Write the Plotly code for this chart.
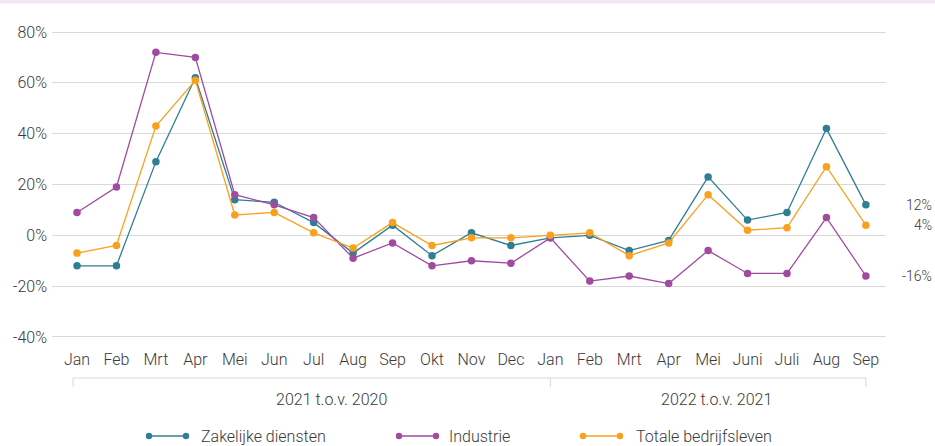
import plotly.graph_objects as go

months = ["Jan", "Feb", "Mrt", "Apr", "Mei", "Jun", "Jul", "Aug", "Sep", "Okt", "Nov", "Dec",
          "Jan", "Feb", "Mrt", "Apr", "Mei", "Juni", "Juli", "Aug", "Sep"]
groups = ["2021 t.o.v. 2020", "2022 t.o.v. 2021"]
zakelijke = [-12, -12, 29, 62, 14, 13, 5, -7, 4, -8, 1, -4, -1, 0, -6, -2, 23, 6, 9, 42, 12]
industrie = [9, 19, 72, 70, 16, 12, 7, -9, -3, -12, -10, -11, -1, -18, -16, -19, -6, -15, -15, 7, -16]
totale = [-7, -4, 43, 61, 8, 9, 1, -5, 5, -4, -1, -1, 0, 1, -8, -3, 16, 2, 3, 27, 4]
series_names = ["Zakelijke diensten", "Industrie", "Totale bedrijfsleven"]
y_ticks = [-40, -20, 0, 20, 40, 60, 80]

colors = ["#2f7f94", "#a04aa0", "#f9a11f"]
FONT = "Roboto, 'Noto Sans', sans-serif"
TXT = "#3a3a3a"

W, H = 935, 446
L, R, T, B = 52, 49, 31, 108
PW, PH = W - L - R, H - T - B


def xp(px):
    return (px - L) / PW


def yp(py):
    return (H - B - py) / PH


x_idx = list(range(len(months)))
fig = go.Figure()
for name, vals, col in zip(series_names, [zakelijke, industrie, totale], colors):
    fig.add_trace(go.Scatter(
        x=x_idx, y=vals, mode="lines+markers", name=name,
        line=dict(color=col, width=1.3),
        marker=dict(color=col, size=7.5),
        showlegend=False,
    ))

shapes = []
annotations = []

# top band
shapes.append(dict(type="rect", xref="paper", yref="paper", x0=xp(0), x1=xp(W), y0=yp(3.5), y1=yp(0),
                   fillcolor="#f1e6f1", line=dict(width=0), layer="below"))

# right-side value labels for last points
for vals in [zakelijke, totale, industrie]:
    annotations.append(dict(x=xp(934), xref="paper", y=vals[-1], yref="y", text=f"{vals[-1]}%",
                            showarrow=False, xanchor="right", yanchor="middle",
                            font=dict(family=FONT, size=14, color=TXT, weight=300)))

# category group bracket
bracket_y = yp(378)
bracket_bot = yp(387)
bx = [-0.1, 12, 20]
shapes.append(dict(type="line", xref="x", yref="paper", x0=bx[0], x1=bx[-1], y0=bracket_y, y1=bracket_y,
                   line=dict(color="#d9d9d9", width=1)))
for b in bx:
    shapes.append(dict(type="line", xref="x", yref="paper", x0=b, x1=b, y0=bracket_y, y1=bracket_bot,
                       line=dict(color="#d9d9d9", width=1)))
for gx, g in zip([6.46, 16.2], groups):
    annotations.append(dict(x=gx, xref="x", y=yp(399), yref="paper", text=g, showarrow=False,
                            xanchor="center", yanchor="middle",
                            font=dict(family=FONT, size=16, color=TXT, weight=300)))

# custom legend
leg_y = yp(436)
for name, col, lx, tx in zip(series_names, colors, [149, 399, 583], [199, 447, 634]):
    shapes.append(dict(type="line", xref="paper", yref="paper", x0=xp(lx), x1=xp(lx + 37), y0=leg_y, y1=leg_y,
                       line=dict(color=col, width=1.3)))
    for cx in [lx, lx + 37]:
        shapes.append(dict(type="circle", xref="paper", yref="paper",
                           x0=xp(cx - 3.2), x1=xp(cx + 3.2), y0=yp(436 + 3.2), y1=yp(436 - 3.2),
                           fillcolor=col, line=dict(width=0)))
    annotations.append(dict(x=xp(tx), xref="paper", y=leg_y, yref="paper", text=name, showarrow=False,
                            xanchor="left", yanchor="middle",
                            font=dict(family=FONT, size=16, color=TXT, weight=300)))

fig.update_layout(
    width=W, height=H,
    margin=dict(l=L, r=R, t=T, b=B, autoexpand=False),
    paper_bgcolor="white", plot_bgcolor="white",
    font=dict(family=FONT, size=16, color=TXT, weight=300),
    xaxis=dict(range=[-0.634, 20.51], tickvals=x_idx, ticktext=months, showgrid=False,
               zeroline=False, showline=False, ticks="", ticklabelstandoff=10,
               tickfont=dict(family=FONT, size=16, color=TXT, weight=300), fixedrange=True),
    yaxis=dict(range=[-40.4, 80.4], tickvals=y_ticks, ticktext=[f"{v}%" for v in y_ticks],
               showgrid=True, gridcolor="#d9d9d9", gridwidth=1, zeroline=False, showline=False,
               ticks="", ticklabelstandoff=4,
               tickfont=dict(family=FONT, size=16, color=TXT, weight=300), fixedrange=True),
    shapes=shapes, annotations=annotations, showlegend=False,
)

fig.write_html(
    "out.html",
    config={"displayModeBar": False},
    post_script="document.body.style.margin='0';document.body.style.overflow='hidden';",
)
